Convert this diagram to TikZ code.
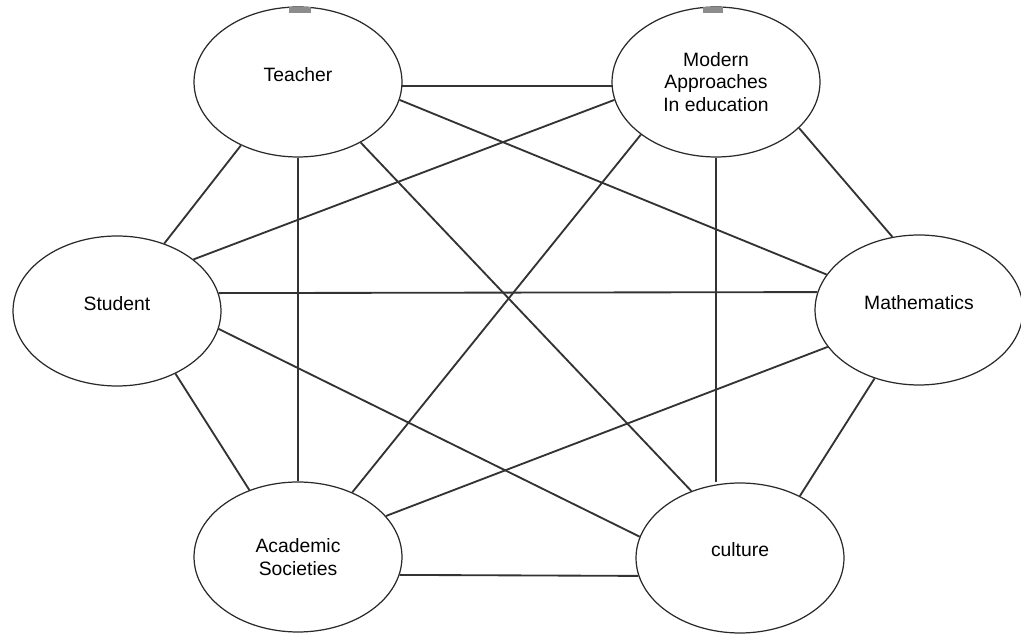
\documentclass[tikz,border=0pt]{standalone}
\usepackage{fontspec}
\setmainfont{Liberation Sans}
\usepackage{xcolor}
\usetikzlibrary{shapes.geometric}
\definecolor{ink}{HTML}{333333}
\definecolor{rim}{HTML}{2A2A2A}
\definecolor{tabgray}{HTML}{8C8C8C}
\tikzset{
  bubble/.style={ellipse, draw=rim, line width=0.7pt, fill=white,
    minimum width=4.16cm, minimum height=3.0cm, inner sep=0pt,
    align=center, font=\fontsize{11}{13}\selectfont},
  lift/.style={text depth=#1},
  link/.style={draw=ink, line width=1.05pt, line cap=butt},
  tab/.style={fill=tabgray},
}

\begin{document}
\begin{tikzpicture}[x=0.02cm, y=-0.02cm]
  \useasboundingbox (0,0) rectangle (1021,634);
  \node[bubble,lift=8pt]  (teacher)  at (298,82)  {Teacher};
  \node[bubble]           (modern)   at (716,82)  {Modern\\Approaches\\In education};
  \node[bubble,lift=9pt]  (student)  at (117,311) {Student};
  \node[bubble,lift=9pt]  (maths)    at (919,310) {Mathematics};
  \node[bubble]           (academic) at (298,557) {Academic\\Societies};
  \node[bubble,lift=10pt] (culture)  at (740,558) {culture};
  % little marks on top of the upper ellipses
  \fill[tab] (289,7) rectangle (311,13);
  \fill[tab] (703,7) rectangle (723,13);
  % every pair is joined
  \foreach \a/\b in {teacher.-2/modern.182, teacher.-132/student.55,
      teacher.south/academic.north, teacher.-10/maths.159,
      teacher.-44/culture.126, modern.190/student.34,
      modern.-29/maths.110, modern.215/academic.50,
      student.10/maths.170, student.-47/academic.126,
      student.-10/culture.168, maths.202/academic.25,
      maths.237/culture.46, academic.-10/culture.190}
    \draw[link] (\a) -- (\b);
  \draw[link] (modern.south) -- (modern.south |- culture.north);
\end{tikzpicture}
\end{document}
